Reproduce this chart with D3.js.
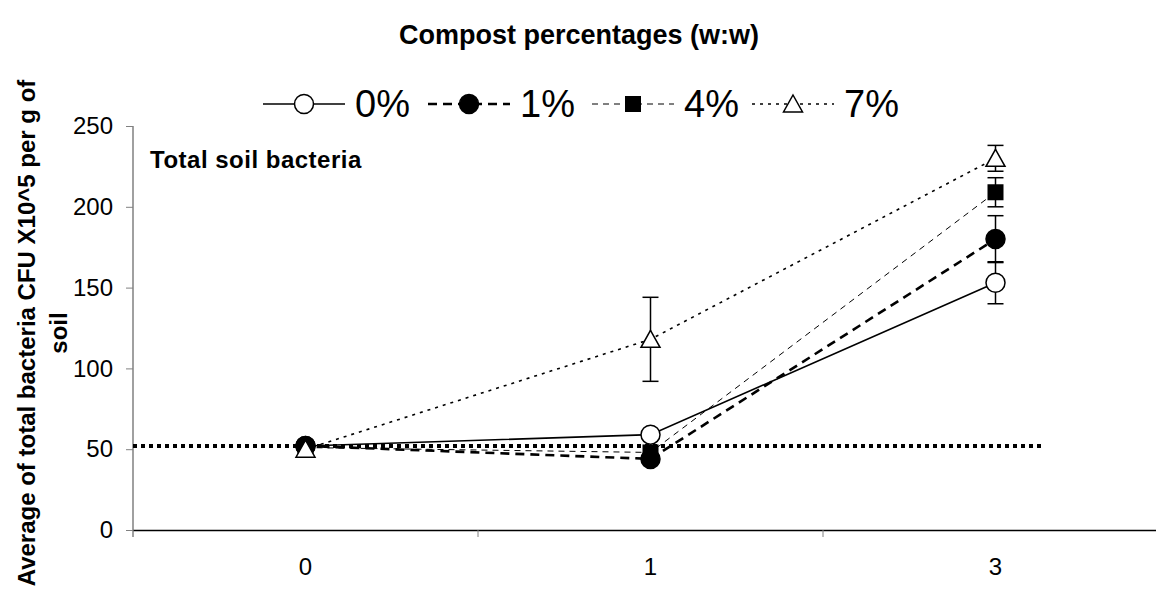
<!DOCTYPE html>
<html>
<head>
<meta charset="utf-8">
<script src="https://cdn.jsdelivr.net/npm/d3@7"></script>
<style>
body { margin: 0; background: #fff; }
svg { display: block; font-family: Arial, "Liberation Sans", sans-serif; }
</style>
</head>
<body>
<script>
// days after compost addition (category axis)
var times = ["0", "1", "3"];
var seriesNames = ["0%", "1%", "4%", "7%"];

// average CFU x10^5 per g of soil
var vals0 = [52, 59, 153];
var vals1 = [52, 44, 180];
var vals4 = [51, 48, 209];
var vals7 = [50, 118, 230];

// error bars (null = hidden by marker)
var err0 = [null, null, 13];
var err1 = [null, null, 14.5];
var err4 = [null, null, 9];
var err7 = [null, 26, 8];

var baseline = 52;   // dotted reference level
var yTicks = [0, 50, 100, 150, 200, 250];

var width = 1156, height = 601;
var margin = {top: 126, left: 133, bottom: 71};
var font = "Arial, 'Liberation Sans', sans-serif";

var svg = d3.select("body").append("svg")
	.attr("width", width).attr("height", height);

var x = d3.scaleBand().domain(times).range([margin.left, 1168]);
var y = d3.scaleLinear().domain([0, 250]).range([height - margin.bottom, margin.top]);

var series = [
	{name: seriesNames[0], vals: vals0, err: err0, dash: null, w: 1.6, sym: "circle", fill: "#fff"},
	{name: seriesNames[1], vals: vals1, err: err1, dash: "9,6", w: 2.6, sym: "circle", fill: "#000"},
	{name: seriesNames[2], vals: vals4, err: err4, dash: "6,5", w: 1, sym: "square", fill: "#000"},
	{name: seriesNames[3], vals: vals7, err: err7, dash: "3,5", w: 1.6, sym: "triangle", fill: "#fff"}
];

function marker(g, s, cx, cy) {
	if (s.sym == "circle") {
		g.append("circle").attr("cx", cx).attr("cy", cy).attr("r", 9.5)
			.attr("fill", s.fill).attr("stroke", "#000").attr("stroke-width", 1.5);
	}
	else if (s.sym == "square") {
		g.append("rect").attr("x", cx - 8).attr("y", cy - 8).attr("width", 16).attr("height", 16)
			.attr("fill", "#000");
	}
	else {
		g.append("path").attr("d", "M" + cx + "," + (cy - 9) + "L" + (cx + 9.5) + "," + (cy + 8) + "L" + (cx - 9.5) + "," + (cy + 8) + "Z")
			.attr("fill", s.fill).attr("stroke", "#000").attr("stroke-width", 1.5);
	}
}

// y axis (gray)
var yAxis = svg.append("g")
	.attr("transform", "translate(" + margin.left + ",0)")
	.call(d3.axisLeft(y).tickValues(yTicks).tickSize(7).tickPadding(13));
yAxis.select(".domain").attr("stroke", "#808080").attr("stroke-width", 1.5)
	.attr("d", "M0," + y(250) + "V" + (y(0) + 7));
yAxis.selectAll(".tick line").attr("stroke", "#808080");
yAxis.selectAll("text").attr("font-size", 24).attr("fill", "#000").attr("font-family", font);

// x axis
var xAxis = svg.append("g")
	.attr("transform", "translate(0," + y(0) + ")")
	.call(d3.axisBottom(x).tickSize(0).tickPadding(28));
xAxis.select(".domain").attr("stroke", "#000").attr("stroke-width", 1.5);
xAxis.selectAll("text").attr("font-size", 24).attr("fill", "#000").attr("font-family", font);
// ticks between categories
xAxis.selectAll(".sep").data(times.slice(1)).enter().append("line")
	.attr("x1", function(d) { return x(d); }).attr("x2", function(d) { return x(d); })
	.attr("y1", 0).attr("y2", 7).attr("stroke", "#808080");

// dotted reference line
svg.append("line")
	.attr("x1", margin.left).attr("x2", x("3") + x.bandwidth() * 0.64)
	.attr("y1", y(baseline)).attr("y2", y(baseline))
	.attr("stroke", "#000").attr("stroke-width", 4).attr("stroke-dasharray", "4,4");

var cxOf = function(i) { return x(times[i]) + x.bandwidth() / 2; };

// lines
var line = d3.line().x(function(d, i) { return cxOf(i); }).y(function(d) { return y(d); });
series.forEach(function(s) {
	svg.append("path").attr("d", line(s.vals)).attr("fill", "none")
		.attr("stroke", "#000").attr("stroke-width", s.w)
		.attr("stroke-dasharray", s.dash);
});

// error bars then markers
var eg = svg.append("g");
series.forEach(function(s) {
	s.vals.forEach(function(v, i) {
		if (s.err[i] == null) return;
		var cx = cxOf(i);
		eg.append("line").attr("x1", cx).attr("x2", cx)
			.attr("y1", y(v + s.err[i])).attr("y2", y(v - s.err[i]))
			.attr("stroke", "#000").attr("stroke-width", 1.5);
		[v + s.err[i], v - s.err[i]].forEach(function(e) {
			eg.append("line").attr("x1", cx - 8).attr("x2", cx + 8)
				.attr("y1", y(e)).attr("y2", y(e))
				.attr("stroke", "#000").attr("stroke-width", 1.5);
		});
	});
});
var mg = svg.append("g");
series.forEach(function(s) {
	s.vals.forEach(function(v, i) { marker(mg, s, cxOf(i), y(v)); });
});

// title
svg.append("text").attr("x", 579).attr("y", 44).attr("text-anchor", "middle")
	.attr("font-size", 27).attr("font-weight", "bold").text("Compost percentages (w:w)");

// legend
var legX = [263, 428, 592, 752];
var lg = svg.append("g");
series.forEach(function(s, i) {
	var x0 = legX[i], ly = 104;
	lg.append("line").attr("x1", x0).attr("x2", x0 + 82).attr("y1", ly).attr("y2", ly)
		.attr("stroke", "#000").attr("stroke-width", s.w).attr("stroke-dasharray", s.dash);
	marker(lg, s, x0 + 41, ly);
	lg.append("text").attr("x", x0 + 92).attr("y", ly + 13).attr("font-size", 38).text(s.name);
});

// inner label
svg.append("text").attr("x", 150).attr("y", 168).attr("font-size", 24)
	.attr("font-weight", "bold").attr("letter-spacing", 0.5).text("Total soil bacteria");

// y axis title
var yt = svg.append("text").attr("transform", "translate(0,333) rotate(-90)")
	.attr("text-anchor", "middle").attr("font-size", 24).attr("font-weight", "bold");
yt.append("tspan").attr("x", 0).attr("y", 35).text("Average of total bacteria CFU X10^5 per g of");
yt.append("tspan").attr("x", 0).attr("y", 67).text("soil");
</script>
</body>
</html>
